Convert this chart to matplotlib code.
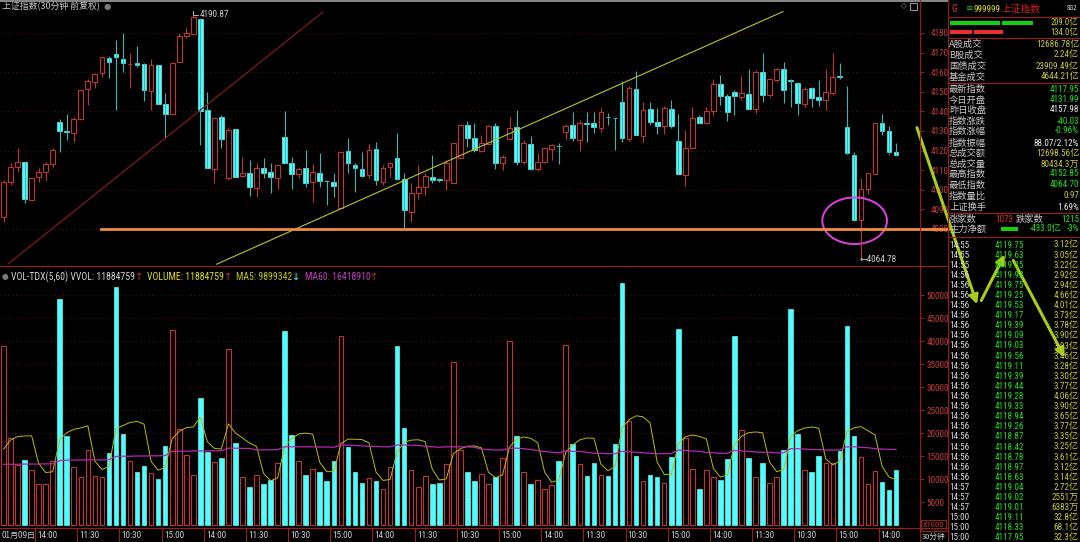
import matplotlib
matplotlib.use("Agg")
import matplotlib.pyplot as plt
from matplotlib import font_manager
from matplotlib.patches import Rectangle, Ellipse, FancyArrowPatch
from matplotlib.lines import Line2D
import pandas as pd

# ---- 数据: 上证指数 30分钟K线 (128根, 16个交易日) ----
opens = [
    4086.3, 4104.1, 4111.8, 4114.0, 4094.8, 4106.4, 4108.9, 4113.0,
    4134.4, 4130.0, 4128.8, 4136.1, 4151.3, 4155.2, 4159.4, 4167.1,
    4169.3, 4166.7, 4164.0, 4164.9, 4164.2, 4150.6, 4163.7, 4143.8,
    4138.5, 4165.0, 4178.5, 4179.5, 4187.1, 4140.7, 4110.4, 4137.3,
    4105.9, 4130.9, 4107.0, 4108.7, 4101.1, 4110.9, 4108.9, 4106.2,
    4126.8, 4113.8, 4107.9, 4110.9, 4104.1, 4108.6, 4104.5, 4104.1,
    4090.5, 4119.8, 4112.7, 4110.4, 4107.6, 4120.6, 4104.1, 4111.8,
    4116.1, 4105.5, 4088.8, 4098.5, 4101.6, 4106.7, 4105.1, 4105.0,
    4103.3, 4116.1, 4133.1, 4126.6, 4120.0, 4123.4, 4132.6, 4113.5,
    4125.7, 4132.0, 4114.4, 4123.4, 4110.6, 4114.4, 4120.8, 4122.5,
    4129.7, 4133.1, 4125.4, 4134.1, 4133.9, 4131.4, 4137.2, 4136.6,
    4144.6, 4125.7, 4151.3, 4127.4, 4141.2, 4134.4, 4132.6, 4141.2,
    4124.9, 4107.6, 4121.5, 4137.0, 4134.3, 4140.4, 4154.0, 4147.9,
    4149.7, 4147.2, 4148.9, 4141.1, 4159.9, 4148.4, 4156.0, 4161.5,
    4155.8, 4154.7, 4143.6, 4151.8, 4147.5, 4145.8, 4149.6, 4157.8,
    4131.99, 4117.8, 4084.6, 4100.2, 4108.1, 4133.9, 4130.0, 4119.5,
]
highs = [
    4105.0, 4113.5, 4121.2, 4114.4, 4105.9, 4110.9, 4114.4, 4121.2,
    4136.1, 4138.5, 4137.3, 4151.3, 4156.4, 4159.8, 4167.9, 4168.3,
    4176.4, 4179.8, 4170.0, 4173.4, 4164.5, 4166.6, 4163.7, 4149.2,
    4164.5, 4180.2, 4182.4, 4190.87, 4187.1, 4150.1, 4136.8, 4138.2,
    4132.2, 4130.9, 4116.9, 4115.2, 4113.8, 4116.4, 4113.5, 4112.7,
    4140.2, 4116.9, 4111.8, 4120.3, 4113.0, 4118.9, 4105.0, 4108.4,
    4119.5, 4126.3, 4113.8, 4119.1, 4123.2, 4124.6, 4112.7, 4114.4,
    4128.8, 4108.4, 4103.3, 4112.7, 4108.4, 4117.8, 4105.9, 4115.2,
    4123.7, 4133.1, 4135.3, 4133.9, 4128.0, 4133.1, 4133.9, 4117.8,
    4137.0, 4140.7, 4125.4, 4127.4, 4118.6, 4122.0, 4123.4, 4124.0,
    4133.6, 4139.9, 4135.6, 4139.9, 4139.9, 4141.6, 4139.0, 4136.7,
    4155.7, 4153.0, 4160.8, 4145.0, 4145.0, 4141.6, 4142.8, 4145.8,
    4138.5, 4130.5, 4142.1, 4138.2, 4142.4, 4156.5, 4158.6, 4148.7,
    4150.9, 4158.1, 4161.5, 4161.1, 4170.0, 4156.9, 4162.0, 4165.4,
    4156.4, 4155.2, 4152.3, 4152.3, 4156.0, 4161.5, 4169.6, 4164.9,
    4152.85, 4119.5, 4105.9, 4108.7, 4133.9, 4138.5, 4132.6, 4124.0,
]
lows = [
    4083.7, 4102.4, 4109.3, 4093.1, 4094.8, 4104.1, 4105.0, 4111.8,
    4119.5, 4125.4, 4124.6, 4135.6, 4143.3, 4151.8, 4157.7, 4157.2,
    4140.7, 4160.3, 4151.8, 4162.8, 4145.3, 4140.7, 4143.8, 4126.3,
    4138.5, 4165.0, 4177.5, 4179.0, 4122.9, 4110.9, 4103.6, 4121.2,
    4105.0, 4106.4, 4106.5, 4096.8, 4096.5, 4105.9, 4098.2, 4100.2,
    4113.5, 4100.2, 4105.9, 4101.6, 4093.9, 4101.6, 4092.2, 4096.5,
    4090.5, 4108.4, 4099.0, 4106.4, 4105.9, 4102.4, 4102.4, 4106.7,
    4105.0, 4080.3, 4083.7, 4095.1, 4097.3, 4103.3, 4104.1, 4099.9,
    4103.3, 4116.1, 4122.0, 4119.5, 4119.5, 4123.0, 4110.4, 4110.1,
    4125.4, 4112.7, 4113.0, 4110.1, 4109.8, 4113.5, 4115.2, 4113.2,
    4125.4, 4125.1, 4120.0, 4124.6, 4128.8, 4129.7, 4133.1, 4120.3,
    4124.6, 4125.1, 4128.0, 4124.6, 4133.1, 4128.5, 4128.5, 4131.4,
    4107.6, 4102.1, 4121.2, 4133.6, 4133.6, 4138.2, 4143.3, 4135.1,
    4138.2, 4145.8, 4140.7, 4139.0, 4145.0, 4147.5, 4155.2, 4144.1,
    4142.1, 4138.2, 4142.4, 4142.4, 4142.8, 4140.7, 4148.4, 4156.5,
    4118.3, 4084.3, 4064.78, 4097.9, 4108.1, 4128.0, 4118.3, 4117.95,
]
closes = [
    4104.1, 4111.8, 4114.4, 4095.1, 4105.9, 4109.3, 4113.0, 4120.3,
    4130.2, 4129.5, 4136.1, 4150.9, 4155.3, 4159.1, 4167.6, 4165.0,
    4167.6, 4164.9, 4164.2, 4163.7, 4150.9, 4163.7, 4143.8, 4138.7,
    4164.5, 4178.5, 4180.2, 4188.0, 4140.2, 4110.9, 4136.8, 4125.9,
    4130.5, 4106.4, 4108.7, 4101.3, 4110.9, 4108.4, 4106.4, 4112.7,
    4113.5, 4107.9, 4110.6, 4103.3, 4108.9, 4104.5, 4104.3, 4101.9,
    4119.5, 4113.5, 4111.3, 4107.0, 4120.3, 4105.0, 4111.3, 4113.8,
    4105.3, 4089.7, 4098.5, 4101.3, 4107.0, 4105.0, 4105.0, 4113.5,
    4123.7, 4133.1, 4126.3, 4120.3, 4123.7, 4132.7, 4113.5, 4116.9,
    4131.4, 4114.4, 4124.0, 4110.6, 4114.4, 4121.5, 4122.9, 4122.2,
    4132.7, 4126.3, 4133.9, 4133.8, 4132.2, 4139.5, 4137.0, 4136.5,
    4126.3, 4151.8, 4128.0, 4140.7, 4134.8, 4132.7, 4141.6, 4132.6,
    4108.2, 4121.5, 4136.8, 4133.9, 4140.2, 4153.8, 4147.9, 4139.9,
    4147.9, 4149.6, 4141.1, 4160.3, 4148.4, 4156.4, 4161.5, 4150.9,
    4155.7, 4144.5, 4151.3, 4147.0, 4145.8, 4149.7, 4157.4, 4157.7,
    4118.6, 4084.6, 4100.2, 4108.4, 4133.9, 4130.0, 4119.1, 4117.95,
]
# 成交量 (x1000)
volumes = [
    38930, 18850, 13050, 14140, 11960, 8920, 8920, 13920,
    49150, 19430, 12540, 10510, 16240, 10660, 10370, 15730,
    51690, 19720, 13920, 11460, 12830, 11240, 10010, 17260,
    42410, 20880, 15230, 10880, 27700, 15810, 13700, 14500,
    38280, 17760, 10370, 8190, 10800, 8920, 9790, 13410,
    42200, 19580, 13920, 10800, 12110, 11600, 9570, 13920,
    41180, 17040, 11530, 9210, 10300, 9570, 7830, 12540,
    38930, 21030, 11960, 8190, 10590, 8990, 9140, 13200,
    35380, 16310, 11460, 9640, 11090, 8850, 10370, 14500,
    39950, 19430, 11460, 8920, 9720, 7760, 8630, 13920,
    39080, 17690, 13270, 10660, 13560, 10880, 10660, 17550,
    52710, 22690, 15080, 9570, 10800, 10370, 9140, 14720,
    42700, 19000, 12180, 7760, 11890, 10510, 9720, 14430,
    41110, 20590, 14500, 10510, 13560, 9140, 10370, 16390,
    46910, 19790, 11960, 11460, 15080, 13410, 13410, 16100,
    43280, 19430, 14720, 8850, 11670, 9280, 7540, 11885,
]
prev_volumes = [8700, 9450, 13390, 11830]   # 前一日末4根, 只用于MA5起点
ma60 = [
    13200, 13200, 13200, 13250, 13250, 13250, 13300, 13300,
    14000, 14100, 14100, 14150, 14150, 14150, 14150, 14200,
    14900, 14950, 14950, 15000, 15000, 15050, 15050, 15100,
    16000, 16050, 16050, 16100, 16100, 16100, 16150, 16150,
    16700, 16700, 16650, 16650, 16300, 16350, 16350, 16400,
    17000, 17000, 17000, 17000, 17000, 16950, 16950, 16900,
    17400, 17350, 17300, 17200, 17100, 17100, 17000, 17000,
    17400, 17400, 17350, 17300, 17100, 17000, 16900, 17000,
    17000, 17000, 17000, 16900, 16500, 16400, 16300, 16300,
    16700, 16700, 16600, 16400, 16200, 16000, 15800, 15700,
    16100, 16000, 16000, 15800, 15600, 15600, 15500, 15500,
    16000, 15900, 15800, 15700, 15600, 15500, 15500, 15500,
    16300, 16200, 16100, 16000, 15800, 15700, 15600, 15600,
    16200, 16100, 16000, 15900, 15800, 15800, 15700, 15700,
    16600, 16600, 16500, 16400, 16400, 16300, 16300, 16300,
    17000, 17000, 16900, 16800, 16600, 16500, 16450, 16419,
]
first_date = "01月09日"
time_labels = ["14:00", "11:30", "10:30", "15:00"] * 5 + ["14:00"]
price_ticks = list(range(4080, 4190, 10))
vol_ticks = list(range(5000, 55000, 5000))

# 画线工具 (趋势线 / 支撑线 / 圈)
red_trend = ([0.64, 45.4], [4062.1, 4190.6])
yellow_trend = ([30.3, 110.9], [4062.0, 4190.9])
support_price = 4080.0
support_start = 13.9
circle_center = (121.1, 4084.2)

# 右侧行情表
info_rows = [
    ("A股成交", "12686.78亿", "#c8c83c"), ("B股成交", "2.24亿", "#c8c83c"),
    ("国债成交", "23909.49亿", "#c8c83c"), ("基金成交", "4644.21亿", "#c8c83c"),
    ("最新指数", "4117.95", "#20e020"), ("今日开盘", "4131.99", "#20e020"),
    ("昨日收盘", "4157.98", "#e8e8e8"), ("指数涨跌", "-40.03", "#20e020"),
    ("指数涨幅", "-0.96%", "#20e020"), ("指数振幅", "88.07/2.12%", "#e8e8e8"),
    ("总成交额", "12698.56亿", "#c8c83c"), ("总成交量", "80434.3万", "#c8c83c"),
    ("最高指数", "4152.85", "#20e020"), ("最低指数", "4064.70", "#20e020"),
    ("指数量比", "0.97", "#c8c83c"), ("上证换手", "1.69%", "#e8e8e8"),
]
info_y = [44, 55, 66, 77, 89, 100, 110, 121, 131, 143, 153, 164, 174, 185, 196, 207]
tick_times = ["14:55"] * 3 + ["14:56"] * 21 + ["14:57"] * 3 + ["15:00"] * 3
tick_prices = ["4119.75", "4119.63", "4119.35", "4119.92", "4119.75", "4119.25",
               "4119.53", "4119.17", "4119.39", "4119.09", "4119.03", "4119.56",
               "4119.11", "4119.39", "4119.44", "4119.28", "4119.33", "4118.94",
               "4119.26", "4118.87", "4118.42", "4118.78", "4118.97", "4118.63",
               "4119.04", "4119.02", "4119.01", "4119.11", "4118.33", "4117.95"]
tick_amounts = ["3.12亿", "3.05亿", "3.22亿", "2.92亿", "2.94亿", "4.66亿",
                "4.01亿", "3.73亿", "3.78亿", "3.90亿", "3.93亿", "3.46亿",
                "3.28亿", "3.30亿", "3.77亿", "4.06亿", "3.90亿", "3.65亿",
                "3.77亿", "3.35亿", "3.25亿", "3.61亿", "3.12亿", "3.14亿",
                "2.72亿", "2551万", "6383万", "32.8亿", "68.1亿", "32.3亿"]

# ---- 样式 / 字体 ----
W, H = 1080, 542
UP = "#c03434"
DOWN = "#54fcfc"
GRID = "#5c1414"
BORDER = "#9a1c1c"
AXTXT = "#c83c3c"
CJK = "Noto Sans CJK SC"

names = {f.name for f in font_manager.fontManager.ttflist}
NUM, NS = "DejaVu Sans", 5.2
for cand in ("Roboto Condensed", "Liberation Sans Narrow", "Barlow Condensed"):
    if cand in names:
        NUM, NS = cand, 6.6
        break
plt.rcParams["font.family"] = [NUM, CJK]
CS = 6.7   # 中文标签字号


def fx(x):
    return x / W


def fy(y):
    return 1 - y / H


fig = plt.figure(figsize=(W / 100, H / 100), dpi=100, facecolor="black")

n = len(closes)
xmin, xmax = -0.5, 130.4
plot_w = 920

# ---- K线主图 ----
ax1 = fig.add_axes([0, fy(266), fx(plot_w), (266 - 3) / H], facecolor="black")
ax1.set_xlim(xmin, xmax)
ax1.set_ylim(4061.1, 4195.3)
for p in range(4080, 4200, 20):
    ax1.axhline(p, color=GRID, lw=0.7, ls=(0, (1, 3)), zorder=0)

bw = 0.68
for i in range(n):
    o, h, l, c = opens[i], highs[i], lows[i], closes[i]
    top, bot = max(o, c), min(o, c)
    if c >= o:
        ax1.vlines(i, top, h, color=UP, lw=0.8)
        ax1.vlines(i, l, bot, color=UP, lw=0.8)
        ax1.add_patch(Rectangle((i - bw / 2, bot), bw, max(top - bot, 0.15),
                                facecolor="black", edgecolor=UP, lw=0.8))
    else:
        ax1.vlines(i, l, h, color="#3cb4b4", lw=0.8)
        ax1.add_patch(Rectangle((i - bw / 2, bot), bw, max(top - bot, 0.3),
                                facecolor=DOWN, edgecolor=DOWN, lw=0.5))

ax1.plot(*red_trend, color="#7e1c1c", lw=0.9)
ax1.plot(*yellow_trend, color="#b4c828", lw=0.8)
ax1.plot([support_start, 134.4], [support_price, support_price], color="#f08c3c",
         lw=2.0, clip_on=False, zorder=6)
ax1.add_patch(Ellipse(circle_center, 9.2, 23.8, fill=False, edgecolor="#e040e0", lw=1.4))

imax = highs.index(max(highs))
imin = lows.index(min(lows))
ax1.text(imax + 0.9, max(highs) - 1.5, "%.2f" % max(highs), color="#d0d0d0",
         fontsize=NS, va="center")
ax1.plot([imax, imax, imax + 0.7], [max(highs) + 0.2, max(highs) - 1.5, max(highs) - 1.5],
         color="#d0d0d0", lw=0.6)
ax1.text(imin - 0.2, min(lows) - 0.6, "←%.2f" % min(lows), color="#d0d0d0",
         fontsize=NS, va="center", family=[NUM, "DejaVu Sans"])

ax1.yaxis.tick_right()
ax1.set_yticks(price_ticks)
ax1.set_yticklabels([str(t) for t in price_ticks])
ax1.tick_params(axis="y", colors=BORDER, labelcolor=AXTXT, labelsize=NS, length=3, pad=5)
ax1.set_xticks([])
for s in ax1.spines.values():
    s.set_visible(False)

# 标题 (依次排列, 不重叠)
t = ax1.text(0.002, 0.987, "上证指数(30分钟 前复权)", transform=ax1.transAxes,
             color="#c8c8c8", fontsize=6.4, va="center", family=[CJK, "DejaVu Sans"])
ax1.annotate("●", xy=(1, 0.5), xycoords=t, xytext=(3, 0), textcoords="offset points",
             color="#7a7a7a", fontsize=6, va="center", family=["DejaVu Sans"],
             annotation_clip=False)

# ---- 成交量副图 ----
ax2 = fig.add_axes([0, fy(526), fx(plot_w), (526 - 268) / H], facecolor="black")
ax2.set_xlim(xmin, xmax)
ax2.set_ylim(-217, 55870)
for v in vol_ticks:
    ax2.axhline(v, color=GRID, lw=0.7, ls=(0, (1, 3)), zorder=0)
for i in range(n):
    if closes[i] >= opens[i]:
        ax2.add_patch(Rectangle((i - 0.33, 0), 0.66, volumes[i], facecolor="black",
                                edgecolor=UP, lw=0.8))
    else:
        ax2.add_patch(Rectangle((i - 0.33, 0), 0.66, volumes[i], facecolor=DOWN,
                                edgecolor=DOWN, lw=0.5))
ma5 = pd.Series(prev_volumes + volumes).rolling(5).mean().iloc[len(prev_volumes):].values
ax2.plot(range(n), ma5, color="#bcbc00", lw=0.7)
ax2.plot(range(n), ma60, color="#b428b4", lw=0.9)
ax2.yaxis.tick_right()
ax2.set_yticks(vol_ticks)
ax2.set_yticklabels([str(t) for t in vol_ticks])
ax2.tick_params(axis="y", colors=BORDER, labelcolor=AXTXT, labelsize=NS, length=3, pad=1.5)
ax2.set_xticks([])
for s in ax2.spines.values():
    s.set_visible(False)

# 成交量指标标题
t = ax2.text(0.002, (526 - 277) / 258, "●", transform=ax2.transAxes,
             color="#7a7a7a", fontsize=5.5, va="center", family=["DejaVu Sans"])
parts = [("VOL-TDX(5,60) VVOL: 11884759", "#d0d0d0", 1.5), ("↑", UP, 0),
         ("VOLUME: 11884759", "#e0e000", 3), ("↑", UP, 0),
         ("MA5: 9899342", "#c8c800", 3), ("↓", DOWN, 0),
         ("MA60: 16418910", "#c040c0", 3), ("↑", UP, 0)]
for s, col, gap in parts:
    t = ax2.annotate(s, xy=(1, 0.5), xycoords=t, xytext=(gap, 0), textcoords="offset points",
                     color=col, fontsize=7, va="center", ha="left",
                     family=[NUM, "DejaVu Sans"], annotation_clip=False)

# ---- 时间轴 ----
ax3 = fig.add_axes([0, 0, fx(plot_w), 14 / H], facecolor="black")
ax3.set_xlim(xmin, xmax)
ax3.set_ylim(0, 1)
ax3.axis("off")
ax3.text(-0.3, 0.5, first_date, color="#d0d0d0", fontsize=5.8, va="center", family=[CJK])
for k, lab in enumerate(time_labels):
    pos = 5 + 6 * k - 0.5
    ax3.axvline(pos, color=BORDER, lw=0.8)
    ax3.text(pos + 0.3, 0.5, lab, color="#d0d0d0", fontsize=NS, va="center")

# ---- 边框线 ----
def hline(y, x0, x1, color=BORDER, lw=0.8):
    fig.add_artist(Line2D([fx(x0), fx(x1)], [fy(y), fy(y)], color=color, lw=lw))


def vline(x, y0, y1, color=BORDER, lw=0.8):
    fig.add_artist(Line2D([fx(x), fx(x)], [fy(y0), fy(y1)], color=color, lw=lw))


hline(0.6, 0, 948, color="#a0a0a0", lw=1.2)
hline(266.5, 0, 948)
hline(528, 0, 948)
vline(920, 0, 542)
vline(948, 0, 542)
for y in (17, 38, 83, 213, 237):
    hline(y, 948, 1080)
fig.add_artist(Rectangle((fx(921), fy(531)), fx(25), 11 / H, transform=fig.transFigure,
                         facecolor="none", edgecolor=BORDER, lw=0.8))
fig.text(fx(933.5), fy(525), "X1000", color=AXTXT, fontsize=NS - 0.6, ha="center", va="center")
fig.text(fx(934), fy(537), "30分钟", color="#d0d0d0", fontsize=5.5, ha="center",
         va="center", family=[CJK])
fig.text(fx(901), fy(6), "◇", color="#909090", fontsize=5.5, va="center", family=["DejaVu Sans"])
fig.add_artist(Rectangle((fx(910), fy(10)), fx(7), 7 / H, transform=fig.transFigure,
                         facecolor="none", edgecolor="#909090", lw=0.8))

# ---- 右侧面板 ----
fig.text(fx(951), fy(9), "G", color="#e03030", fontsize=7, va="center")
fig.text(fx(965), fy(9), "≡", color="#30c030", fontsize=6.5, va="center", family=["DejaVu Sans"])
fig.text(fx(974), fy(9), "999999", color="#e0e000", fontsize=6.6, va="center")
fig.text(fx(1002), fy(9), "上证指数", color="#d82020", fontsize=7.0, va="center", family=[CJK])
fig.text(fx(1077), fy(9), "SG2", color="#e8e8e8", fontsize=4.8, ha="right", va="center")

for x0, x1 in ((950, 1000), (1002, 1033)):
    fig.add_artist(Rectangle((fx(x0), fy(24.5)), fx(x1 - x0), 3 / H, transform=fig.transFigure,
                             facecolor="#10d010", edgecolor="none"))
for x0, x1 in ((950, 972), (974, 1003)):
    fig.add_artist(Rectangle((fx(x0), fy(33.5)), fx(x1 - x0), 3 / H, transform=fig.transFigure,
                             facecolor="#e83030", edgecolor="none"))
fig.text(fx(1078), fy(23), "209.0亿", color="#c8c83c", fontsize=NS - 0.4, ha="right",
         va="center")
fig.text(fx(1078), fy(32), "134.0亿", color="#c8c83c", fontsize=NS - 0.4, ha="right",
         va="center")

for (lab, val, col), y in zip(info_rows, info_y):
    fig.text(fx(949), fy(y), lab, color="#c8c8c8", fontsize=CS, va="center", family=[CJK])
    fig.text(fx(1079), fy(y), val, color=col, fontsize=NS, ha="right", va="center")

fig.text(fx(949), fy(219), "涨家数", color="#c8c8c8", fontsize=CS, va="center", family=[CJK])
fig.text(fx(995), fy(219), "1073", color="#e03030", fontsize=NS, va="center")
fig.text(fx(1016), fy(219), "跌家数", color="#c8c8c8", fontsize=CS, va="center", family=[CJK])
fig.text(fx(1079), fy(219), "1215", color="#20e020", fontsize=NS, ha="right", va="center")
fig.text(fx(949), fy(229), "主力净额", color="#c8c8c8", fontsize=CS, va="center", family=[CJK])
fig.add_artist(Rectangle((fx(1001), fy(231)), fx(17), 4 / H, transform=fig.transFigure,
                         facecolor="#10d010", edgecolor="none"))
fig.text(fx(1062), fy(229), "-433.0亿", color="#20e020", fontsize=NS, ha="right",
         va="center")
fig.text(fx(1079), fy(229), "-3%", color="#20e020", fontsize=NS, ha="right", va="center")

for k in range(len(tick_times)):
    y = 245 + k * 10.1
    fig.text(fx(949), fy(y), tick_times[k], color="#d8d8d8", fontsize=NS, va="center")
    fig.text(fx(1009), fy(y), tick_prices[k], color="#20e020", fontsize=NS, ha="center",
             va="center")
    fig.text(fx(1079), fy(y), tick_amounts[k], color="#c8c83c", fontsize=NS, ha="right",
             va="center")

# ---- 标注箭头 ----
arrows = [((916, 125), (978, 307)), ((980, 303), (1006, 252)), ((1012, 258), (1066, 360))]
for a, b in arrows:
    fig.add_artist(FancyArrowPatch((fx(a[0]), fy(a[1])), (fx(b[0]), fy(b[1])),
                                   transform=fig.transFigure, arrowstyle="-|>",
                                   mutation_scale=13, lw=2.2, color="#a8cc1c"))

fig.savefig("out.png", dpi=100, facecolor="black")
